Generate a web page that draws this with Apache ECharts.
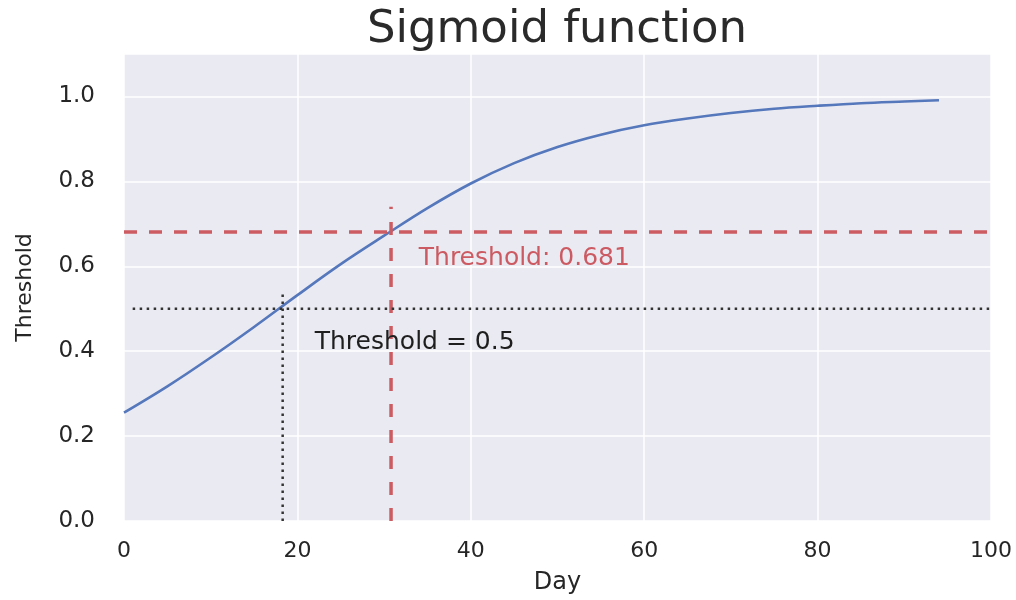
<!DOCTYPE html>
<html>
<head>
<meta charset="utf-8">
<script src="https://cdn.jsdelivr.net/npm/echarts@6/dist/echarts.min.js"></script>
<style>html,body{margin:0;padding:0;background:#fff}#c{width:1016px;height:600px}</style>
</head>
<body>
<div id="c"></div>
<script>
// Data
const days = [0, 5, 10, 15, 20, 25, 30, 35, 40, 45, 50, 55, 60, 65, 70, 75, 80, 85, 90, 94];
const sigmoidValues = [0.255, 0.317, 0.385, 0.457, 0.532, 0.605, 0.672, 0.737, 0.795, 0.843, 0.881, 0.910, 0.932, 0.948, 0.961, 0.971, 0.978, 0.984, 0.988, 0.991];
const xTicks = [0, 20, 40, 60, 80, 100];
const yTicks = [0.0, 0.2, 0.4, 0.6, 0.8, 1.0];
const redThreshold = 0.681;   // horizontal red dashed line
const redDay = 30.8;          // vertical red dashed line
const redTop = 0.74;
const midThreshold = 0.5;     // black dotted line
const midDay = 18.3;
const midTop = 0.54;
const midStart = 1;
const redLabel = 'Threshold: 0.681';
const redLabelPos = [34.0, 0.619];
const midLabel = 'Threshold = 0.5';
const midLabelPos = [22.0, 0.420];

const FONT = 'DejaVu Sans';
const chart = echarts.init(document.getElementById('c'), null, {renderer: 'canvas'});
const curve = days.map((d, i) => [d, sigmoidValues[i]]);

chart.setOption({
  animation: false,
  backgroundColor: '#ffffff',
  textStyle: {fontFamily: FONT},
  title: {
    text: 'Sigmoid function',
    left: 557, top: 8, textAlign: 'center', padding: 0,
    textStyle: {fontFamily: FONT, fontSize: 45, fontWeight: 'normal', color: '#2a2a2a'}
  },
  grid: {
    left: 124, right: 25, top: 54, bottom: 78,
    show: true, backgroundColor: '#EAEAF2', borderWidth: 0
  },
  xAxis: {
    type: 'value', min: xTicks[0], max: xTicks[xTicks.length - 1], interval: xTicks[1] - xTicks[0],
    name: 'Day', nameLocation: 'middle', nameGap: 50,
    nameTextStyle: {fontFamily: FONT, fontSize: 24, color: '#262626'},
    axisLine: {show: false}, axisTick: {show: false},
    axisLabel: {fontFamily: FONT, fontSize: 22, color: '#262626', margin: 19},
    splitLine: {show: true, lineStyle: {color: '#ffffff', width: 1.5}}
  },
  yAxis: {
    type: 'value', min: yTicks[0], max: 1.1, interval: yTicks[1] - yTicks[0],
    name: 'Threshold', nameLocation: 'middle', nameGap: 88,
    nameTextStyle: {fontFamily: FONT, fontSize: 22, color: '#262626'},
    axisLine: {show: false}, axisTick: {show: false},
    axisLabel: {fontFamily: FONT, fontSize: 23, color: '#262626', margin: 29, showMaxLabel: false,
      formatter: v => v.toFixed(1)},
    splitLine: {show: true, lineStyle: {color: '#ffffff', width: 1.5}}
  },
  series: [
    {
      type: 'line', data: curve, smooth: 0.35, symbol: 'none',
      lineStyle: {color: '#5577bb', width: 2.6}, z: 3
    },
    {
      type: 'line', data: [[xTicks[0], redThreshold], [xTicks[xTicks.length - 1], redThreshold]], symbol: 'none',
      lineStyle: {color: '#CD5C62', width: 3.5, type: [13, 12]}, z: 4
    },
    {
      type: 'line', data: [[redDay, 0], [redDay, redTop]], symbol: 'none',
      lineStyle: {color: '#CD5C62', width: 3.5, type: [13, 13]}, z: 4
    },
    {
      type: 'line', data: [[midStart, midThreshold], [xTicks[xTicks.length - 1], midThreshold]], symbol: 'none',
      lineStyle: {color: '#333333', width: 2.5, type: [2.5, 4.5]}, z: 4
    },
    {
      type: 'line', data: [[midDay, 0], [midDay, midTop]], symbol: 'none',
      lineStyle: {color: '#333333', width: 2.5, type: [2.5, 4.5]}, z: 4
    },
    {
      type: 'scatter', symbolSize: 0, data: [redLabelPos], z: 5,
      label: {show: true, position: 'right', distance: 0, formatter: redLabel,
        fontFamily: FONT, fontSize: 25, color: '#CC5A62', opacity: 1}
    },
    {
      type: 'scatter', symbolSize: 0, data: [midLabelPos], z: 5,
      label: {show: true, position: 'right', distance: 0, formatter: midLabel,
        fontFamily: FONT, fontSize: 25, color: '#1e1e1e', opacity: 1}
    }
  ]
});
</script>
</body>
</html>
